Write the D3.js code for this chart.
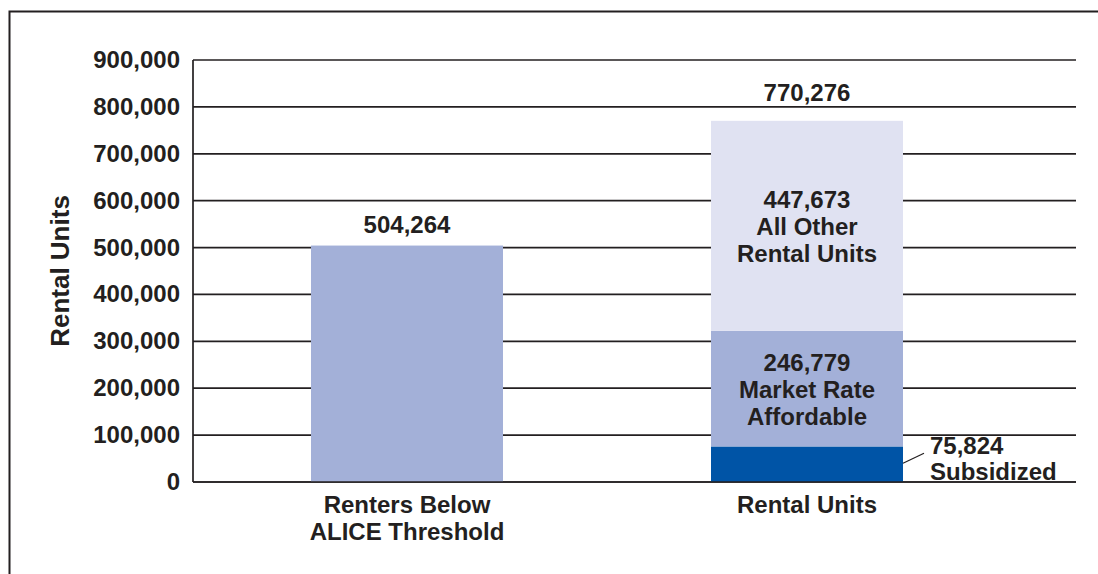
<!DOCTYPE html>
<html>
<head>
<meta charset="utf-8">
<script src="https://cdn.jsdelivr.net/npm/d3@7"></script>
<style>
  body { margin: 0; background: #fff; }
  svg text { font-family: "Liberation Sans", Arial, Helvetica, sans-serif; font-weight: bold; fill: #231f20; }
</style>
</head>
<body>
<svg id="chart" width="1098" height="574"></svg>
<script>
// chart data
var categories = ["Renters Below ALICE Threshold", "Rental Units"];
var categoryLines = [["Renters Below", "ALICE Threshold"], ["Rental Units"]];
var renterValues = [504264];
var segmentNames = ["Subsidized", "Market Rate Affordable", "All Other Rental Units"];
var segmentValues = [75824, 246779, 447673];
var segmentLines = [["Subsidized"], ["Market Rate", "Affordable"], ["All Other", "Rental Units"]];
var segmentColors = ["#0054a6", "#a3b0d8", "#e0e2f2"];
var yTicks = [0, 100000, 200000, 300000, 400000, 500000, 600000, 700000, 800000, 900000];
var yTitle = "Rental Units";

var svg = d3.select("#chart");
var ink = "#231f20";
var fs = "24px";
var plotLeft = 193, plotRight = 1076, plotTop = 60, plotBottom = 482;

// outer frame (runs off the right and bottom edges)
svg.append("rect").attr("x", 9.5).attr("y", 11.5).attr("width", 1200).attr("height", 700)
  .attr("fill", "none").attr("stroke", ink).attr("stroke-width", 2);

var x = d3.scaleBand().domain(categories).range([207, 1007]).paddingInner(0.52).paddingOuter(0.26);
var y = d3.scaleLinear().domain([0, 900000]).range([plotBottom, plotTop]);
var fmt = d3.format(",");

// grid lines
svg.append("g").selectAll("line").data(yTicks).enter().append("line")
  .attr("x1", plotLeft).attr("x2", plotRight)
  .attr("y1", function(d){ return y(d); }).attr("y2", function(d){ return y(d); })
  .attr("stroke", ink).attr("stroke-width", 1.7);

// left axis line
svg.append("line").attr("x1", plotLeft).attr("x2", plotLeft).attr("y1", y(900000)).attr("y2", y(0))
  .attr("stroke", ink).attr("stroke-width", 1.7);

// tick labels
svg.append("g").selectAll("text").data(yTicks).enter().append("text")
  .attr("x", 180).attr("y", function(d){ return y(d) + 8; })
  .attr("text-anchor", "end").style("font-size", fs)
  .text(function(d){ return fmt(d); });

// y title
svg.append("text").attr("transform", "translate(69," + (y(450000)) + ")rotate(-90)")
  .attr("text-anchor", "middle").style("font-size", "26px").text(yTitle);

// first bar
svg.append("rect").attr("x", x(categories[0])).attr("width", x.bandwidth())
  .attr("y", y(renterValues[0])).attr("height", y(0) - y(renterValues[0]))
  .attr("fill", "#a3b0d8");
svg.append("text").attr("x", x(categories[0]) + x.bandwidth() / 2).attr("y", y(renterValues[0]) - 13)
  .attr("text-anchor", "middle").style("font-size", fs).text(fmt(renterValues[0]));

// stacked bar
var stacked = [];
var run = 0;
segmentValues.forEach(function(v, i){
  stacked.push({name: segmentNames[i], v0: run, v1: run + v, value: v, lines: segmentLines[i], color: segmentColors[i]});
  run += v;
});
var bx = x(categories[1]), bw = x.bandwidth();
svg.append("g").selectAll("rect").data(stacked).enter().append("rect")
  .attr("x", bx).attr("width", bw)
  .attr("y", function(d){ return y(d.v1); })
  .attr("height", function(d){ return y(d.v0) - y(d.v1); })
  .attr("fill", function(d){ return d.color; });

// labels inside the upper segments
stacked.slice(1).forEach(function(d){
  var lines = [fmt(d.value)].concat(d.lines);
  var mid = (y(d.v0) + y(d.v1)) / 2;
  var lh = 27;
  var first = mid - (lines.length - 1) * lh / 2 + 9;
  svg.append("g").selectAll("text").data(lines).enter().append("text")
    .attr("x", bx + bw / 2).attr("y", function(t, i){ return first + i * lh; })
    .attr("text-anchor", "middle").style("font-size", fs).text(function(t){ return t; });
});

// subsidized label with a leader line
var sub = stacked[0];
var subMid = (y(sub.v0) + y(sub.v1)) / 2;
svg.append("line").attr("x1", bx + bw).attr("y1", subMid - 1).attr("x2", bx + bw + 21).attr("y2", subMid - 11)
  .attr("stroke", ink).attr("stroke-width", 1.2);
svg.append("g").selectAll("text").data([fmt(sub.value)].concat(sub.lines)).enter().append("text")
  .attr("x", bx + bw + 27).attr("y", function(t, i){ return subMid - 10 + i * 26; })
  .style("font-size", fs).text(function(t){ return t; });

// total on top
svg.append("text").attr("x", bx + bw / 2).attr("y", y(run) - 20)
  .attr("text-anchor", "middle").style("font-size", fs).text(fmt(run));

// bottom axis line drawn over bars
svg.append("line").attr("x1", plotLeft).attr("x2", plotRight).attr("y1", y(0)).attr("y2", y(0))
  .attr("stroke", ink).attr("stroke-width", 1.7);

// category labels
categories.forEach(function(c, i){
  svg.append("g").selectAll("text").data(categoryLines[i]).enter().append("text")
    .attr("x", x(c) + x.bandwidth() / 2).attr("y", function(t, j){ return 513 + j * 26.7; })
    .attr("text-anchor", "middle").style("font-size", fs).text(function(t){ return t; });
});
</script>
</body>
</html>
